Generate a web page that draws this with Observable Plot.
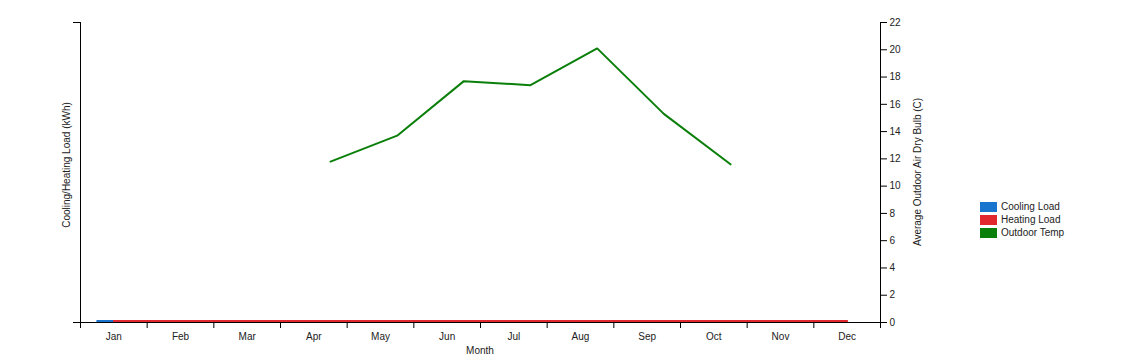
<!DOCTYPE html>
<html>
<head>
<meta charset="utf-8">
<script src="https://cdn.jsdelivr.net/npm/d3@7"></script>
<script src="https://cdn.jsdelivr.net/npm/@observablehq/plot@0.6"></script>
<style>
  html, body { margin: 0; padding: 0; background: #fff; }
  #wrap { position: relative; width: 1135px; height: 358px; font-family: "Liberation Sans", Arial, sans-serif; }
  #legend { position: absolute; left: 980px; top: 200px; font-size: 10px; color: #222; }
  .item { display: flex; align-items: center; height: 13px; }
  .sw { width: 17px; height: 10px; margin-right: 4px; }
</style>
</head>
<body>
<div id="wrap">
  <div id="chart"></div>
  <div id="legend"></div>
</div>
<script>
const months = ["Jan","Feb","Mar","Apr","May","Jun","Jul","Aug","Sep","Oct","Nov","Dec"];
const coolingLoad = [0,0,0,0,0,0,0,0,0,0,0,0];
const heatingLoad = [0,0,0,0,0,0,0,0,0,0,0,0];
const outdoorTemp = [null,null,null,11.8,13.7,17.7,17.4,20.1,15.3,11.6,null,null];
const tempTicks = [0,2,4,6,8,10,12,14,16,18,20,22];
const seriesNames = ["Cooling Load","Heating Load","Outdoor Temp"];
const seriesColors = ["#1874cd","#e0282e","#0a7f0a"];

(function () {
const mLeft = 80, mRight = 1135 - 880, mTop = 22, mBottom = 358 - 322;
const plotW = 1135 - mLeft - mRight;
const band = plotW / months.length;

// loads on their own (left) scale, converted to the temperature frame
const loadMax = d3.max([...coolingLoad, ...heatingLoad]) || 1;
const tempMax = d3.max(tempTicks);
const toFrame = v => v / loadMax * tempMax;

const rows = months.map((m, i) => ({
  m, i, c: i + 0.5,
  cool: toFrame(coolingLoad[i]),
  heat: toFrame(heatingLoad[i]),
  temp: outdoorTemp[i]
}));

const chart = Plot.plot({
  width: 1135,
  height: 358,
  marginLeft: mLeft,
  marginRight: mRight,
  marginTop: mTop,
  marginBottom: mBottom,
  style: { fontFamily: "Liberation Sans, Arial, sans-serif", fontSize: "10px", color: "#222", background: "#fff" },
  x: { domain: [0, months.length], axis: null },
  y: { domain: [0, tempMax], axis: null },
  marks: [
    Plot.ruleX([0, months.length], { stroke: "#000" }),
    Plot.ruleY([0], { stroke: "#000" }),
    // x ticks at band boundaries
    Plot.axisX({ ticks: d3.range(months.length + 1), tickFormat: () => "", tickSize: 6, stroke: "#000", label: null }),
    // month labels
    Plot.text(rows, { x: "c", y: () => 0, text: "m", dy: 14, fill: "#222", fontSize: 10 }),
    // left axis (loads) ticks only at ends
    Plot.axisY({ anchor: "left", ticks: [0, tempMax], tickFormat: () => "", tickSize: 7, stroke: "#000", label: null }),
    // right axis (temperature)
    Plot.axisY({ anchor: "right", ticks: tempTicks, tickSize: 6, tickPadding: 3, stroke: "#000", fill: "#222", label: null, fontSize: 10 }),
    // series
    Plot.line(rows, { x: "c", y: "cool", dx: -band / 4, dy: -1.5, stroke: seriesColors[0], strokeWidth: 2 }),
    Plot.line(rows, { x: "c", y: "heat", dy: -1.5, stroke: seriesColors[1], strokeWidth: 2 }),
    Plot.line(rows.filter(d => d.temp != null), { x: "c", y: "temp", dx: band / 4, stroke: seriesColors[2], strokeWidth: 2 })
  ]
});

// axis titles
const svg = d3.select(chart);
svg.append("text").attr("transform", `translate(70,${mTop + 143}) rotate(-90)`)
  .attr("text-anchor", "middle").attr("font-size", 10).attr("fill", "#222").text("Cooling/Heating Load (kWh)");
svg.append("text").attr("transform", `translate(921,${mTop + 150}) rotate(-90)`)
  .attr("text-anchor", "middle").attr("font-size", 10).attr("fill", "#222").text("Average Outdoor Air Dry Bulb (C)");
svg.append("text").attr("x", mLeft + plotW / 2).attr("y", 354)
  .attr("text-anchor", "middle").attr("font-size", 10).attr("fill", "#222").text("Month");

document.getElementById("chart").appendChild(chart);

const lg = d3.select("#legend");
seriesNames.forEach((n, k) => {
  const it = lg.append("div").attr("class", "item");
  it.append("div").attr("class", "sw").style("background", seriesColors[k]);
  it.append("span").text(n);
});
})();
</script>
</body>
</html>
